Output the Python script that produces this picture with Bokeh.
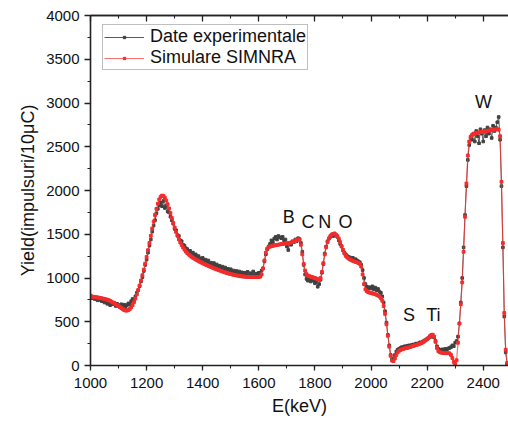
from bokeh.plotting import figure
from bokeh.models import (Range1d, SingleIntervalTicker, FixedTicker, LinearAxis, Label,
                          Legend, LegendItem, ColumnDataSource)
from bokeh.embed import file_html
from bokeh.resources import INLINE

FONT = "Liberation Sans"

# Energy channels (keV)
energy = list(range(1000, 2490, 5))

# Experimental yield (counts / 10 uC)
experimental = [
    800, 770, 785, 760, 775, 745, 770, 750, 735, 760,        # 1000-1045
    720, 745, 705, 730, 690, 725, 700, 715, 680, 705,        # 1050
    690, 670, 700, 675, 695, 665, 690, 710, 700, 735,        # 1100
    760, 745, 790, 830, 860, 905, 960, 1010, 1080, 1150,     # 1150
    1210, 1290, 1370, 1440, 1530, 1600, 1660, 1740, 1790, 1830,  # 1200
    1860, 1820, 1880, 1800, 1830, 1760, 1750, 1700, 1660, 1620,  # 1250
    1560, 1545, 1490, 1480, 1430, 1420, 1380, 1370, 1340, 1330,  # 1300
    1300, 1310, 1280, 1290, 1255, 1270, 1240, 1250, 1225, 1215,  # 1350
    1230, 1195, 1210, 1180, 1200, 1165, 1175, 1150, 1170, 1140,  # 1400
    1155, 1125, 1140, 1110, 1130, 1095, 1120, 1090, 1105, 1080,  # 1450
    1100, 1070, 1085, 1060, 1080, 1050, 1075, 1040, 1065, 1045,  # 1500
    1060, 1035, 1070, 1020, 1055, 1040, 1075, 1030, 1050, 1045,  # 1550
    1060, 1040, 1085, 1110, 1190, 1270, 1330, 1360, 1390, 1430,  # 1600
    1410, 1450, 1470, 1440, 1480, 1465, 1455, 1470, 1430, 1440,  # 1650
    1360, 1320, 1400, 1380, 1420, 1410, 1440, 1420, 1455, 1445,  # 1700
    1400, 1300, 1150, 1040, 990, 970, 1000, 960, 990, 970,       # 1750
    940, 960, 900, 930, 980, 1060, 1160, 1280, 1360, 1420,       # 1800
    1450, 1470, 1490, 1480, 1510, 1485, 1470, 1430, 1390, 1360,  # 1850
    1320, 1290, 1270, 1250, 1240, 1235, 1220, 1230, 1210, 1215,  # 1900
    1200, 1190, 1180, 1150, 1090, 1000, 930, 900, 880, 895,      # 1950
    880, 905, 870, 890, 860, 875, 845, 830, 790, 720,            # 2000
    620, 490, 350, 230, 120, 70, 80, 120, 160, 180,              # 2050
    190, 200, 210, 205, 220, 215, 225, 230, 220, 235,            # 2100
    240, 230, 250, 245, 255, 265, 260, 275, 285, 290,            # 2150
    305, 315, 325, 335, 330, 320, 280, 220, 190, 180,            # 2200
    175, 185, 170, 190, 180, 195, 200, 210, 230, 220,            # 2250
    260, 280, 330, 480, 720, 1000, 1350, 1720, 2050, 2350,       # 2300
    2520, 2600, 2580, 2650, 2560, 2680, 2620, 2540, 2700, 2650,  # 2350
    2560, 2690, 2620, 2720, 2650, 2700, 2600, 2740, 2680, 2720,  # 2400
    2780, 2840, 2580, 2050, 1350, 560, 150, 20,                  # 2450-2485
]

# SIMNRA simulation
simulation = [
    790, 788, 785, 782, 780, 778, 775, 772, 768, 764,        # 1000-1045
    760, 756, 752, 746, 738, 729, 719, 709, 699, 689,        # 1050
    679, 668, 656, 644, 634, 628, 627, 633, 646, 664,        # 1100
    690, 724, 765, 812, 862, 915, 972, 1032, 1095, 1165,     # 1150
    1240, 1318, 1400, 1483, 1565, 1645, 1720, 1790, 1850, 1898,  # 1200
    1928, 1942, 1938, 1918, 1885, 1843, 1795, 1742, 1686, 1630,  # 1250
    1577, 1527, 1482, 1442, 1406, 1375, 1348, 1324, 1303, 1285,  # 1300
    1270, 1256, 1243, 1232, 1222, 1212, 1203, 1194, 1185, 1177,  # 1350
    1169, 1161, 1153, 1146, 1139, 1132, 1125, 1118, 1111, 1105,  # 1400
    1099, 1093, 1087, 1081, 1075, 1069, 1064, 1059, 1054, 1049,  # 1450
    1045, 1041, 1037, 1033, 1030, 1027, 1024, 1021, 1019, 1017,  # 1500
    1015, 1014, 1013, 1012, 1011, 1010, 1010, 1010, 1010, 1011,  # 1550
    1012, 1015, 1040, 1110, 1200, 1290, 1335, 1350, 1358, 1364,  # 1600
    1368, 1372, 1375, 1378, 1381, 1384, 1387, 1390, 1392, 1394,  # 1650
    1396, 1399, 1402, 1405, 1410, 1416, 1424, 1433, 1442, 1440,  # 1700
    1380, 1270, 1160, 1085, 1045, 1028, 1020, 1015, 1010, 1005,  # 1750
    1000, 993, 985, 980, 1000, 1070, 1170, 1270, 1350, 1410,     # 1800
    1452, 1480, 1497, 1504, 1503, 1495, 1478, 1450, 1410, 1365,  # 1850
    1318, 1280, 1253, 1235, 1222, 1212, 1204, 1197, 1190, 1184,  # 1900
    1178, 1172, 1162, 1130, 1040, 930, 870, 848, 838, 832,       # 1950
    828, 824, 820, 815, 808, 800, 788, 770, 740, 680,            # 2000
    590, 470, 340, 215, 110, 55, 50, 80, 120, 150,               # 2050
    168, 178, 185, 190, 195, 199, 203, 207, 212, 218,            # 2100
    223, 228, 233, 238, 243, 249, 256, 265, 276, 288,            # 2150
    302, 318, 335, 350, 352, 330, 270, 200, 165, 152,            # 2200
    147, 144, 142, 141, 141, 142, 138, 120, 85, 40,              # 2250
    20, 60, 260, 480, 700, 950, 1300, 1700, 2080, 2400,          # 2300
    2560, 2615, 2635, 2645, 2652, 2657, 2661, 2664, 2667, 2670,  # 2350
    2673, 2676, 2679, 2682, 2685, 2688, 2691, 2694, 2697, 2699,  # 2400
    2700, 2695, 2620, 2100, 1400, 600, 180, 30,                  # 2450-2485
]

# Element labels: (text, energy, yield)
element_names = ["B", "C", "N", "O", "S", "Ti", "W"]
element_x = [1707, 1775, 1835, 1909, 2135, 2222, 2401]
element_y = [1700, 1645, 1645, 1645, 582, 582, 3006]

x_major = [1000, 1200, 1400, 1600, 1800, 2000, 2200, 2400]
x_minor = [1100, 1300, 1500, 1700, 1900, 2100, 2300]

x_label = "E(keV)"
y_label = "Yield(impulsuri/10\u03bcC)"
legend_labels = ["Date experimentale", "Simulare SIMNRA"]

n = min(len(energy), len(experimental), len(simulation))
src = ColumnDataSource(dict(e=energy[:n], exp=experimental[:n], sim=simulation[:n]))

p = figure(width=508, height=422, output_backend="svg", toolbar_location=None,
           x_range=Range1d(1000, 2490), y_range=Range1d(0, 4000),
           min_border_left=90, min_border_right=0, min_border_top=15,
           min_border_bottom=57, x_axis_location=None, y_axis_location=None)
p.outline_line_color = None
p.xgrid.visible = False
p.ygrid.visible = False
p.background_fill_color = "white"
p.border_fill_color = "white"

AX = "#222222"


def style_axis(ax):
    ax.axis_line_color = AX
    ax.axis_line_width = 1.6
    ax.major_tick_line_color = AX
    ax.minor_tick_line_color = AX
    ax.major_tick_line_width = 1.3
    ax.minor_tick_line_width = 1.1
    ax.major_label_text_font = FONT
    ax.major_label_text_font_size = "15px"
    ax.major_label_text_color = "#111111"
    ax.axis_label_text_font = FONT
    ax.axis_label_text_font_size = "18px"
    ax.axis_label_text_font_style = "normal"
    ax.axis_label_text_color = "#111111"


xt = SingleIntervalTicker(interval=200, num_minor_ticks=2)
yt = SingleIntervalTicker(interval=500, num_minor_ticks=2)

xaxis = LinearAxis(ticker=xt, axis_label=x_label)
style_axis(xaxis)
xaxis.major_tick_out = 5
xaxis.major_tick_in = 0
xaxis.minor_tick_out = 3
xaxis.minor_tick_in = 0
xaxis.major_label_standoff = 7
xaxis.axis_label_standoff = 5
p.add_layout(xaxis, "below")

yaxis = LinearAxis(ticker=yt, axis_label=y_label)
style_axis(yaxis)
yaxis.major_tick_out = 6
yaxis.major_tick_in = 0
yaxis.minor_tick_out = 3
yaxis.minor_tick_in = 0
yaxis.major_label_standoff = 5
yaxis.axis_label_standoff = 5
p.add_layout(yaxis, "left")

# top frame line with inward ticks (no labels)
taxis = LinearAxis(ticker=FixedTicker(ticks=[], minor_ticks=x_major))
style_axis(taxis)
taxis.minor_tick_out = 0
taxis.minor_tick_in = 6
taxis.minor_tick_line_width = 1.3
taxis.major_label_standoff = 0
p.add_layout(taxis, "above")

taxis2 = LinearAxis(ticker=FixedTicker(ticks=[], minor_ticks=x_minor))
style_axis(taxis2)
taxis2.minor_tick_out = 0
taxis2.minor_tick_in = 3
taxis2.major_label_standoff = 0
p.add_layout(taxis2, "above")

# experimental data
l1 = p.line("e", "exp", source=src, line_color="#5a5a5a", line_width=1)
s1 = p.scatter("e", "exp", source=src, marker="square", size=2.6,
               fill_color="#404040", line_color="#404040")
# simulation
l2 = p.line("e", "sim", source=src, line_color="#ff3030", line_width=1.2, line_alpha=0.7)
s2 = p.scatter("e", "sim", source=src, marker="square", size=2.8,
               fill_color="#f42c2c", line_color="#f42c2c")

legend = Legend(items=[LegendItem(label=legend_labels[0], renderers=[l1, s1]),
                       LegendItem(label=legend_labels[1], renderers=[l2, s2])],
                location=(12, 295))
legend.padding = 1
legend.spacing = 0
legend.glyph_width = 40
legend.glyph_height = 6
legend.label_height = 18
legend.label_standoff = 6
legend.label_text_font = FONT
legend.label_text_font_size = "18px"
legend.label_text_color = "#111111"
legend.border_line_color = "#808080"
legend.border_line_width = 1
legend.background_fill_color = "white"
legend.background_fill_alpha = 1
p.add_layout(legend, "center")

for name, ex, ey in zip(element_names, element_x, element_y):
    p.add_layout(Label(x=ex, y=ey, text=name, text_font=FONT, text_font_size="18px",
                       text_align="center", text_baseline="middle", text_color="#111111"))

open("out.html", "w").write(file_html(p, INLINE))
